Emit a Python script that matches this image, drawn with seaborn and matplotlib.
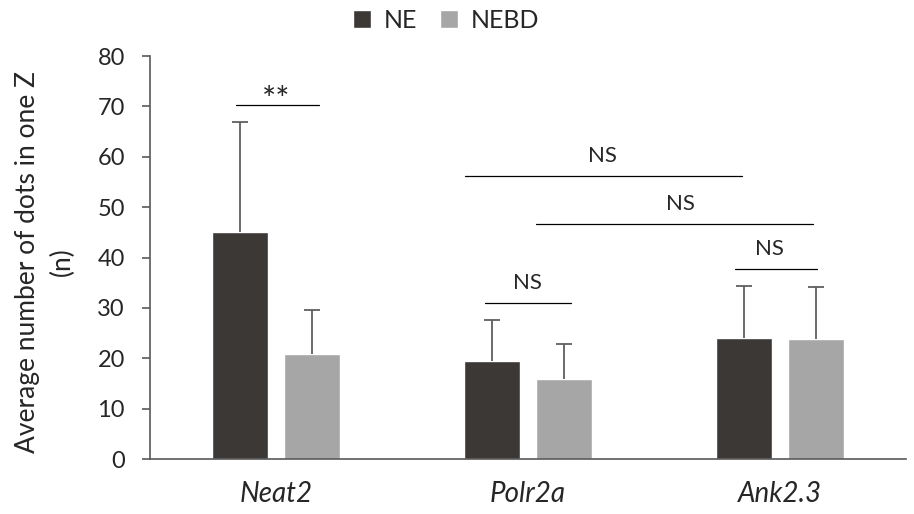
import matplotlib
matplotlib.use("Agg")
import matplotlib.pyplot as plt
import seaborn as sns
import pandas as pd

# data
genes = ["Neat2", "Polr2a", "Ank2.3"]
groups = ["NE", "NEBD"]
ne_mean = [45.0, 19.4, 24.1]
nebd_mean = [20.8, 15.8, 23.9]
ne_err = [21.9, 8.1, 10.2]
nebd_err = [8.7, 7.1, 10.2]

df = pd.DataFrame({
    "gene": genes * 2,
    "group": ["NE"] * 3 + ["NEBD"] * 3,
    "value": ne_mean + nebd_mean,
    "err": ne_err + nebd_err,
})

sns.set_style("white")
plt.rcParams["font.family"] = ["Lato", "DejaVu Sans"]

fig = plt.figure(figsize=(9.14, 5.14), dpi=100)
ax = fig.add_axes([0.164, 0.107, 0.827, 0.784])

palette = {"NE": "#3b3836", "NEBD": "#a6a6a6"}
sns.barplot(data=df, x="gene", y="value", hue="group", hue_order=groups,
            palette=palette, width=0.571, gap=0.222, errorbar=None,
            saturation=1, ax=ax)

# upward-only error bars (hide the lower cap)
for cont, g in zip(ax.containers, groups):
    sub = df[df["group"] == g]
    xs = [p.get_x() + p.get_width() / 2 for p in cont]
    eb = ax.errorbar(xs, sub["value"], yerr=[[0] * len(sub), sub["err"]],
                     fmt="none", ecolor="#5f5f5f", elinewidth=1.3,
                     capsize=6, capthick=1.3)
    eb[1][0].set_visible(False)

# significance annotations
sig = [
    (-0.159, 0.171, 70.2, 0.0, 71.6, "**"),
    (0.829, 1.171, 31.0, 1.0, 33.0, "NS"),
    (0.75, 1.849, 56.1, 1.298, 58.1, "NS"),
    (1.032, 2.131, 46.6, 1.607, 48.6, "NS"),
    (1.821, 2.147, 37.7, 1.96, 39.7, "NS"),
]
for x0, x1, y, tx, ty, s in sig:
    ax.plot([x0, x1], [y, y], color="black", lw=0.9)
    if s == "**":
        ax.text(tx, y - 1.0, s, ha="center", va="baseline", fontsize=24)
    else:
        ax.text(tx, ty, s, ha="center", va="bottom", fontsize=16)

ax.set_xlim(-0.5, 2.5)
ax.set_ylim(0, 80)
ax.set_yticks(range(0, 81, 10))
ax.tick_params(axis="y", labelsize=17, length=6, width=1.2, color="#595959",
               direction="out", left=True, pad=12)
ax.tick_params(axis="x", length=0, pad=16)
ax.set_xticklabels(genes, fontsize=20, style="italic")
ax.set_xlabel("")
ax.set_ylabel("Average number of dots in one Z\n(n)", fontsize=19,
              linespacing=1.5)
ax.yaxis.set_label_coords(-0.099, 0.49)

for side in ["top", "right"]:
    ax.spines[side].set_visible(False)
for side in ["left", "bottom"]:
    ax.spines[side].set_color("#595959")
    ax.spines[side].set_linewidth(1.2)

handles, labels = ax.get_legend_handles_labels()
ax.legend_.remove()
fig.legend(handles, labels, loc="center", bbox_to_anchor=(0.488, 0.961),
           ncol=2, frameon=False, fontsize=18, handlelength=0.75,
           handleheight=0.75, handletextpad=0.5, columnspacing=0.9)

fig.savefig("out.png", dpi=100)
